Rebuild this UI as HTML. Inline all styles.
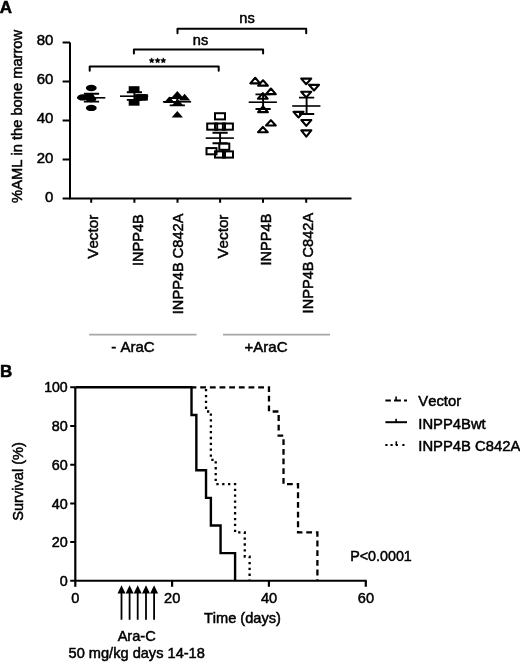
<!DOCTYPE html>
<html><head><meta charset="utf-8">
<style>
html,body{margin:0;padding:0;background:#fff;}
body{width:520px;height:662px;overflow:hidden;}
svg{display:block;will-change:transform;}
text{font-family:"Liberation Sans",sans-serif;fill:#000;font-kerning:none;stroke:#000;stroke-width:0.5px;}
</style></head>
<body>
<svg width="520" height="662" viewBox="0 0 520 662">
<rect width="520" height="662" fill="#fff"/>
<text x="-0.3" y="12.6" font-size="17" font-weight="bold">A</text>
<text transform="translate(21.8,116.4) rotate(-90)" font-size="14.7" text-anchor="middle">%AML in the bone marrow</text>
<g stroke="#000" stroke-width="2" fill="none">
<path d="M70,42.5 V198.6 H351.5"/>
<path d="M62.6,42.5 H70 M62.6,81.5 H70 M62.6,120.5 H70 M62.6,159.6 H70 M62.6,198.6 H70"/>
<path d="M91.2,198.6 V202.8 M134.4,198.6 V202.8 M177.5,198.6 V202.8 M220.1,198.6 V202.8 M263.0,198.6 V202.8 M306.2,198.6 V202.8"/>
</g>
<g font-size="15" text-anchor="end">
<text x="53.4" y="45.4">80</text>
<text x="53.4" y="84.4">60</text>
<text x="53.4" y="123.4">40</text>
<text x="53.4" y="162.5">20</text>
<text x="53.4" y="201.5">0</text>
</g>
<g font-size="14.6" text-anchor="end">
<text transform="translate(98.2,214.8) rotate(-90)" font-size="15.2">Vector</text>
<text transform="translate(142.6,214.2) rotate(-90)" font-size="14.6">INPP4B</text>
<text transform="translate(183.2,213.6) rotate(-90)" font-size="14.6">INPP4B C842A</text>
<text transform="translate(227.6,214.6) rotate(-90)" font-size="15.2">Vector</text>
<text transform="translate(271.2,213.6) rotate(-90)" font-size="14.6">INPP4B</text>
<text transform="translate(313.2,212.8) rotate(-90)" font-size="14.6">INPP4B C842A</text>
</g>
<g stroke="#a6a6a6" stroke-width="1.6"><path d="M89.2,334.6 H196.5 M223,334.6 H330"/></g>
<g font-size="15"><text x="111.3" y="351.5">- AraC</text><text x="244.6" y="351.5">+AraC</text></g>
<g stroke="#000" stroke-width="2" fill="none" stroke-linejoin="round" stroke-linecap="round">
<path d="M89.7,70.8 V66.6 H218.7 V70.8"/>
<path d="M133.9,53.6 V49.4 H263.1 V53.6"/>
<path d="M177.5,33.2 V28.7 H306.2 V33.2"/>
</g>
<g font-size="14.6"><text x="192.8" y="45.1">ns</text><text x="239.3" y="23.3">ns</text></g>
<g fill="#000" stroke="#000" stroke-width="0.5" stroke-linejoin="round">
<polygon points="151.70,57.85 152.46,59.55 154.32,59.75 152.94,61.00 153.32,62.82 151.70,61.90 150.08,62.82 150.46,61.00 149.08,59.75 150.94,59.55"/>
<polygon points="157.60,57.85 158.36,59.55 160.22,59.75 158.84,61.00 159.22,62.82 157.60,61.90 155.98,62.82 156.36,61.00 154.98,59.75 156.84,59.55"/>
<polygon points="163.30,57.85 164.06,59.55 165.92,59.75 164.54,61.00 164.92,62.82 163.30,61.90 161.68,62.82 162.06,61.00 160.68,59.75 162.54,59.55"/>
</g>
<g fill="#000">
<ellipse cx="91.3" cy="88" rx="5.4" ry="3.2"/>
<ellipse cx="82.6" cy="97.4" rx="5.4" ry="3.2"/>
<ellipse cx="89" cy="96.5" rx="5.4" ry="3.2"/>
<ellipse cx="91" cy="99" rx="5.4" ry="3.2"/>
<ellipse cx="91.3" cy="107.9" rx="5.4" ry="3.2"/>
</g>
<g fill="#000">
<rect x="128.70" y="86.20" width="10.8" height="6.4"/>
<rect x="128.70" y="99.30" width="10.8" height="6.4"/>
<rect x="135.10" y="94.15" width="10.8" height="6.4"/>
<rect x="137.10" y="94.15" width="10.8" height="6.4"/>
</g>
<g fill="#000">
<path d="M177.3,91.0 l5.7,6.6 h-11.4z"/>
<path d="M184.6,93.8 l5.7,6.6 h-11.4z"/>
<path d="M169.3,96.5 l5.7,6.6 h-11.4z"/>
<path d="M177.5,98.8 l5.7,6.6 h-11.4z"/>
<path d="M177.3,111.0 l5.7,6.6 h-11.4z"/>
</g>
<g fill="none" stroke="#000" stroke-width="2">
<rect x="215.00" y="113.20" width="10.00" height="6.20"/>
<rect x="207.20" y="123.50" width="10.00" height="6.20"/>
<rect x="215.00" y="123.50" width="10.00" height="6.20"/>
<rect x="222.90" y="123.50" width="10.00" height="6.20"/>
<rect x="219.30" y="143.60" width="10.00" height="6.20"/>
<rect x="206.50" y="148.10" width="10.00" height="6.20"/>
<rect x="215.00" y="151.40" width="10.00" height="6.20"/>
<rect x="223.00" y="151.40" width="10.00" height="6.20"/>
</g>
<g fill="none" stroke="#000" stroke-width="2.1" stroke-linejoin="round">
<path d="M255.20,77.75 L260.07,83.35 L250.32,83.35 Z"/>
<path d="M263.00,80.25 L267.88,85.65 L258.12,85.65 Z"/>
<path d="M270.90,88.56 L275.77,94.15 L266.02,94.15 Z"/>
<path d="M262.80,93.16 L267.68,98.75 L257.93,98.75 Z"/>
<path d="M263.00,106.56 L267.88,112.15 L258.12,112.15 Z"/>
<path d="M270.90,120.16 L275.77,125.55 L266.02,125.55 Z"/>
<path d="M262.90,126.95 L267.77,132.25 L258.02,132.25 Z"/>
</g>
<g fill="none" stroke="#000" stroke-width="2.1" stroke-linejoin="round">
<path d="M301.18,78.65 L311.22,78.65 L306.20,84.25 Z"/>
<path d="M308.98,84.85 L319.02,84.85 L314.00,90.44 Z"/>
<path d="M301.18,91.75 L311.22,91.75 L306.20,97.34 Z"/>
<path d="M293.48,111.85 L303.52,111.85 L298.50,117.44 Z"/>
<path d="M301.28,120.05 L311.32,120.05 L306.30,125.94 Z"/>
<path d="M301.28,130.35 L311.32,130.35 L306.30,136.65 Z"/>
</g>
<g stroke="#000" fill="none">
<path stroke-width="1.6" d="M77.1,97.8 H105.3"/>
<path stroke-width="1.9" d="M83.9,93.8 H99.1 M83.9,101.6 H99.1 M91.5,93.8 V101.6"/>
<path stroke-width="1.6" d="M120.0,96.2 H148.2"/>
<path stroke-width="1.9" d="M126.8,92.2 H142.0 M126.8,99.9 H142.0 M134.4,92.2 V99.9"/>
<path stroke-width="1.6" d="M162.9,101.8 H191.1"/>
<path stroke-width="1.9" d="M169.7,98.0 H184.9 M169.7,105.4 H184.9 M177.3,98.0 V105.4"/>
<path stroke-width="1.6" d="M205.7,138.1 H233.9"/>
<path stroke-width="1.9" d="M212.5,132.8 H227.7 M212.5,143.3 H227.7 M220.1,132.8 V143.3"/>
<path stroke-width="1.6" d="M248.7,102.2 H276.9"/>
<path stroke-width="1.9" d="M255.5,94.4 H270.7 M255.5,109.0 H270.7 M263.1,94.4 V109.0"/>
<path stroke-width="1.6" d="M292.2,106.0 H320.4"/>
<path stroke-width="1.9" d="M299.0,97.6 H314.2 M299.0,114.0 H314.2 M306.6,97.6 V114.0"/>
</g>
<text x="0.1" y="377.2" font-size="17" font-weight="bold">B</text>
<text transform="translate(22.8,481.4) rotate(-90)" font-size="14.6" text-anchor="middle">Survival (%)</text>
<g stroke="#000" stroke-width="2" fill="none">
<path stroke-width="2.2" d="M75.3,387.3 V586.8"/>
<path d="M70.2,580.8 H366.7"/>
<path d="M70.2,387.3 H75.3 M70.2,426.0 H75.3 M70.2,464.7 H75.3 M70.2,503.4 H75.3 M70.2,542.1 H75.3"/>
<path stroke-width="2.2" d="M172.1,580.8 V586.8 M268.9,580.8 V586.8 M365.8,580.8 V586.8"/>
</g>
<g font-size="14.4" text-anchor="end">
<text x="67.7" y="392.4" font-size="14.1">100</text>
<text x="67.7" y="431.1">80</text>
<text x="67.7" y="469.8">60</text>
<text x="67.7" y="508.5">40</text>
<text x="67.7" y="547.2">20</text>
<text x="67.7" y="585.9">0</text>
</g>
<g font-size="14.6" text-anchor="middle">
<text x="75.4" y="603.0">0</text>
<text x="172.2" y="603.0">20</text>
<text x="269.0" y="603.0">40</text>
<text x="365.9" y="603.0">60</text>
</g>
<text x="242.4" y="622.7" font-size="14.6" text-anchor="middle">Time (days)</text>
<g fill="none" stroke="#000" stroke-width="2.3">
<path d="M75.30,387.30 H191.51 V414.94 H196.35 V470.23 H206.03 V497.87 H210.88 V525.51 H220.56 V553.16 H235.09 V580.80" stroke-width="2.4"/>
<path d="M206.03,387.30 H206.03 V411.49 H210.88 V459.86 H215.72 V484.05 H235.09 V532.42 H244.77 V556.61 H249.61 V580.80" stroke-dasharray="2.3 3.55" stroke-dashoffset="4.1"/>
<path d="M191.51,387.30 H268.98 V411.49 H278.66 V435.67 H283.51 V484.05 H298.03 V532.42 H317.40 V580.80" stroke-dasharray="5.8 3.86" stroke-dashoffset="0.95"/>
</g>
<g fill="none" stroke="#000" stroke-width="2">
<path d="M385.4,400.4 H390.9 M394.0,400.4 H400.9 M404.0,400.4 H407.0"/>
<path d="M396.1,400.4 V396.6" stroke-width="1.6"/>
<path d="M385.4,422.2 H407"/>
<path d="M396.1,422.2 V418.8" stroke-width="1.6"/>
<path d="M385.3,444.9 H387.5 M390.5,444.9 H392.7 M395.7,444.9 H397.9 M402.3,444.9 H404.5"/>
<path d="M396.3,444.9 V441.3" stroke-width="1.6"/>
</g>
<g font-size="14.8"><text x="418.3" y="405.6">Vector</text><text x="418.3" y="428.8">INPP4Bwt</text><text x="418.3" y="450.8">INPP4B C842A</text></g>
<text x="350.2" y="560.8" font-size="14.3">P&lt;0.0001</text>
<g stroke="#000" stroke-width="1.8">
<path d="M121.5,592 V619.8 M129.6,592 V619.8 M137.7,592 V619.8 M146,592 V619.8 M154.1,592 V619.8"/>
</g><g fill="#000">
<path d="M121.5,585.2 l4,8.3 h-8z"/>
<path d="M129.6,585.2 l4,8.3 h-8z"/>
<path d="M137.7,585.2 l4,8.3 h-8z"/>
<path d="M146,585.2 l4,8.3 h-8z"/>
<path d="M154.1,585.2 l4,8.3 h-8z"/>
</g>
<g font-size="14.6" text-anchor="middle"><text x="136.7" y="641">Ara-C</text><text x="136.7" y="658">50 mg/kg days 14-18</text></g>
</svg>
</body></html>
